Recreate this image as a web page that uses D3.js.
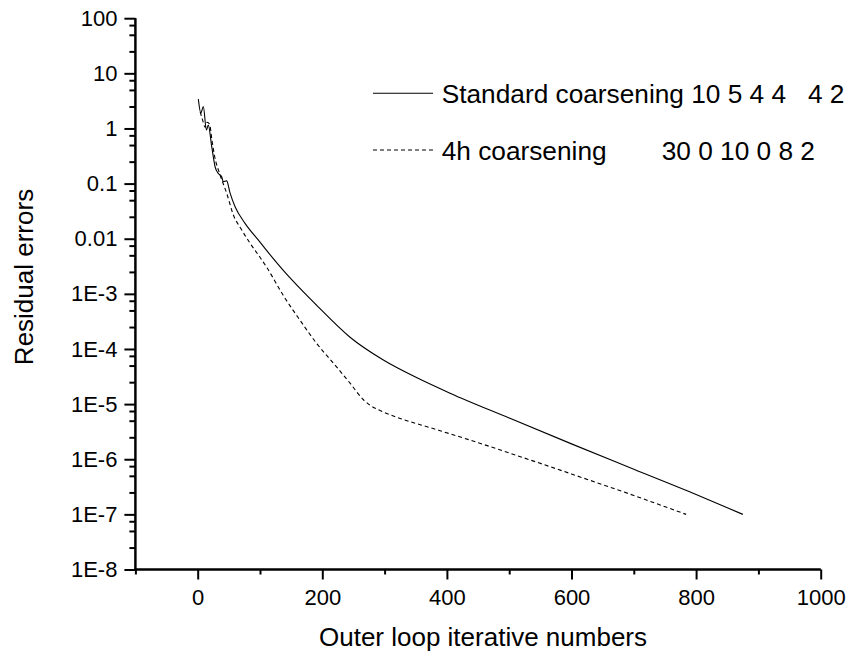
<!DOCTYPE html>
<html>
<head>
<meta charset="utf-8">
<script src="https://cdn.jsdelivr.net/npm/d3@7"></script>
<style>
  html, body { margin: 0; padding: 0; background: #fff; }
  svg { display: block; font-family: "Liberation Sans", Arial, sans-serif; }
</style>
</head>
<body>
<svg id="chart" width="849" height="655"></svg>
<script>
// ---- data ----
const stdX = [1, 5, 9, 14, 17, 22.5, 28, 33, 38.5, 41, 46.5, 52, 60, 76, 100, 121, 137, 191, 244, 298, 352, 405, 500, 600, 700, 800, 875];
const stdY = [3.4, 1.9, 2.5, 0.94, 1.15, 0.47, 0.2, 0.153, 0.133, 0.108, 0.112, 0.067, 0.038, 0.019, 0.0087, 0.0044, 0.0027, 6.2e-4, 1.65e-4, 6.3e-5, 3.0e-5, 1.58e-5, 5.6e-6, 1.9e-6, 6.6e-7, 2.3e-7, 1e-7];

const h4X = [4, 8, 12, 15, 19, 23, 27, 36, 46.5, 57, 70.5, 84, 100, 111, 137, 164, 191, 218, 244.5, 266, 276.5, 298, 325, 378, 450, 500, 600, 700, 784];
const h4Y = [2.0, 1.4, 1.05, 1.3, 1.2, 0.6, 0.32, 0.143, 0.067, 0.0275, 0.0145, 0.0083, 0.0046, 0.003, 9.5e-4, 3.35e-4, 1.26e-4, 5.5e-5, 2.4e-5, 1.2e-5, 9.6e-6, 7.2e-6, 5.5e-6, 3.6e-6, 2.0e-6, 1.3e-6, 5.4e-7, 2.2e-7, 1e-7];

const xTicks = [0, 200, 400, 600, 800, 1000];
const xMinorTicks = [-100, 100, 300, 500, 700, 900];
const yTicks = [100, 10, 1, 0.1, 0.01, 1e-3, 1e-4, 1e-5, 1e-6, 1e-7, 1e-8];
const yTickLabels = ["100", "10", "1", "0.1", "0.01", "1E-3", "1E-4", "1E-5", "1E-6", "1E-7", "1E-8"];
const seriesNames = ["Standard coarsening 10 5 4 4   4 2", "4h coarsening"];
const seriesExtra = ["", "30 0 10 0 8 2"];
const xTitle = "Outer loop iterative numbers";
const yTitle = "Residual errors";

// ---- layout ----
const svg = d3.select("#chart");
const pLeft = 135.4, pRight = 820.7, pTop = 18.2, pBottom = 569.5;

const x = d3.scaleLinear().domain([-100, 1000]).range([pLeft, pRight]);
const y = d3.scaleLog().domain([1e-8, 100]).range([pBottom, pTop]);

// minor y ticks at 2.5, 5, 7.5 of each decade
const yMinor = [];
for (let e = -8; e < 2; e++) {
  [2.5, 5, 7.5].forEach(m => yMinor.push(m * Math.pow(10, e)));
}

const lineGen = d3.line()
  .x(d => x(d[0]))
  .y(d => y(d[1]))
  .curve(d3.curveMonotoneX);

const stdData = stdX.map((v, i) => [v, stdY[i]]);
const h4Data = h4X.map((v, i) => [v, h4Y[i]]);

svg.append("path")
  .datum(stdData)
  .attr("d", lineGen)
  .attr("fill", "none")
  .attr("stroke", "#000")
  .attr("stroke-width", 1.1);

svg.append("path")
  .datum(h4Data)
  .attr("d", lineGen)
  .attr("fill", "none")
  .attr("stroke", "#000")
  .attr("stroke-width", 1.1)
  .attr("stroke-dasharray", "4,3");

// ---- axes ----
const fmtMap = new Map(yTicks.map((t, i) => [t, yTickLabels[i]]));

const gy = svg.append("g").attr("transform", `translate(${pLeft},0)`)
  .call(d3.axisLeft(y).tickValues(yTicks).tickFormat(d => fmtMap.get(d)).tickSize(11).tickPadding(7));
const gyMinor = svg.append("g").attr("transform", `translate(${pLeft},0)`)
  .call(d3.axisLeft(y).tickValues(yMinor).tickFormat("").tickSize(6));
const gx = svg.append("g").attr("transform", `translate(0,${pBottom})`)
  .call(d3.axisBottom(x).tickValues(xTicks).tickFormat(d3.format("d")).tickSize(10).tickPadding(10));
const gxMinor = svg.append("g").attr("transform", `translate(0,${pBottom})`)
  .call(d3.axisBottom(x).tickValues(xMinorTicks).tickFormat("").tickSize(5));

[gy, gyMinor].forEach(g => g.select(".domain").attr("d", `M0,${pTop}V${pBottom + 1}`));
[gx, gxMinor].forEach(g => g.select(".domain").attr("d", `M${pLeft - 1},0H${pRight}`));
[gy, gyMinor, gx, gxMinor].forEach(g => {
  g.select(".domain").attr("stroke", "#000").attr("stroke-width", 2);
  g.selectAll(".tick line").attr("stroke", "#000").attr("stroke-width", 2);
  g.selectAll(".tick text").attr("fill", "#000").style("font-size", "22px")
    .style("font-family", '"Liberation Sans", Arial, sans-serif');
});

// ---- titles ----
svg.append("text")
  .attr("x", 483)
  .attr("y", 646)
  .attr("text-anchor", "middle")
  .style("font-size", "26px")
  .text(xTitle);

svg.append("text")
  .attr("transform", `translate(33,277) rotate(-90)`)
  .attr("text-anchor", "middle")
  .style("font-size", "26px")
  .text(yTitle);

// ---- legend ----
const legRows = [93.3, 150];
seriesNames.forEach((name, i) => {
  svg.append("line")
    .attr("x1", 373).attr("x2", 433)
    .attr("y1", legRows[i]).attr("y2", legRows[i])
    .attr("stroke", "#000").attr("stroke-width", 1.1)
    .attr("stroke-dasharray", i === 1 ? "4,3" : null);
  svg.append("text")
    .attr("x", 441.7).attr("y", legRows[i] + 9.5)
    .style("font-size", "26.25px")
    .style("white-space", "pre")
    .attr("xml:space", "preserve")
    .text(name);
  if (seriesExtra[i]) {
    svg.append("text")
      .attr("x", 661.7).attr("y", legRows[i] + 9.5)
      .style("font-size", "26.25px")
      .text(seriesExtra[i]);
  }
});
</script>
</body>
</html>
